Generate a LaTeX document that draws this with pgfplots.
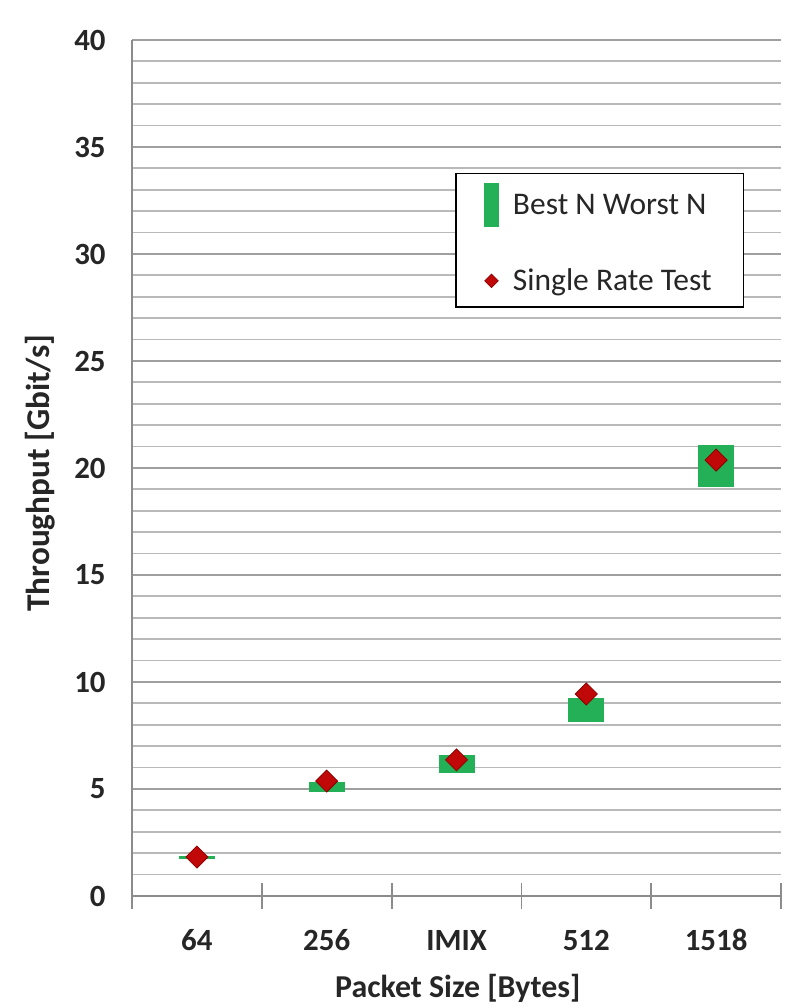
\documentclass[border=0pt]{standalone}
\usepackage{fontspec}
\setmainfont{Carlito}
\usepackage{pgfplots}
\pgfplotsset{compat=1.18}
\definecolor{bargreen}{RGB}{36,176,86}
\definecolor{dred}{RGB}{192,8,8}
\definecolor{dredEdge}{RGB}{140,0,0}
\begin{document}
\begin{tikzpicture}
\useasboundingbox (0,0) rectangle (399.5bp,504bp);
\begin{axis}[
  at={(66bp,56bp)}, anchor=south west,
  width=324.5bp, height=428bp, scale only axis,
  xmin=-0.5, xmax=4.5, ymin=0, ymax=40,
  axis x line*=bottom, axis y line*=left,
  axis line style={-, draw=gray!90, line width=0.9bp},
  xtick={-0.5,0.5,1.5,2.5,3.5,4.5},
  x tick label as interval,
  xticklabels={64,256,IMIX,512,1518},
  ytick={0,5,...,40},
  minor y tick num=4,
  ymajorgrids, yminorgrids,
  major grid style={draw=gray!75, line width=0.9bp},
  minor grid style={draw=gray!55, line width=0.9bp},
  tick align=center,
  major tick length=13bp,
  minor tick length=0pt,
  ytick style={draw=none},
  xtick style={draw=gray!90, line width=0.9bp},
  /pgf/number format/assume math mode=true,
  ticklabel style={font=\bfseries\fontsize{15.5}{18}\selectfont, text=black!85},
  yticklabel style={anchor=east, inner xsep=0pt, xshift=-6.5bp},
  xticklabel style={anchor=base, yshift=-20.5bp},
  xlabel={Packet Size [Bytes]},
  ylabel={Throughput [Gbit/s]},
  every axis x label/.style={at={(axis description cs:0.502,-0.118)}, anchor=base,
    font=\bfseries\fontsize{16}{19}\selectfont, text=black!85},
  every axis y label/.style={at={(axis description cs:-0.1418,0.494)}, rotate=90, anchor=center,
    font=\bfseries\fontsize{16.7}{20}\selectfont, text=black!85},
  legend style={at={(rel axis cs:0.498,0.845)}, anchor=north west, draw=black, line width=0.8bp,
    fill=white, font=\fontsize{15.8}{18}\selectfont, inner xsep=14bp, inner ysep=5bp,
    row sep=18.5bp, cells={anchor=west}, text=black!85,
    /tikz/every odd column/.append style={column sep=5bp}},
  legend cell align=left,
]
\addplot[draw=none, mark=none,
  legend image code/.code={\fill[bargreen] (0bp,-11bp) rectangle (7.5bp,11bp);},
  error bars/.cd, y dir=both, y explicit, error mark=none,
  error bar style={line width=18bp, draw=bargreen}]
  coordinates {
  (0,1.80) +- (0,0.08)
  (1,5.095) +- (0,0.235)
  (2,6.17) +- (0,0.42)
  (3,8.69) +- (0,0.56)
  (4,20.09) +- (0,0.98)
  };
\addlegendentry{Best N Worst N}
\addplot[only marks, mark=square*, mark size=3.9bp,
  mark options={rotate=45, fill=dred, draw=dredEdge, line width=0.4bp},
  legend image code/.code={\draw[mark size=2.4bp] plot coordinates {(3.75bp,0bp)};}]
  coordinates {
  (0,1.82)
  (1,5.37)
  (2,6.36)
  (3,9.44)
  (4,20.37)
  };
\addlegendentry{Single Rate Test}
\end{axis}
\end{tikzpicture}
\end{document}
